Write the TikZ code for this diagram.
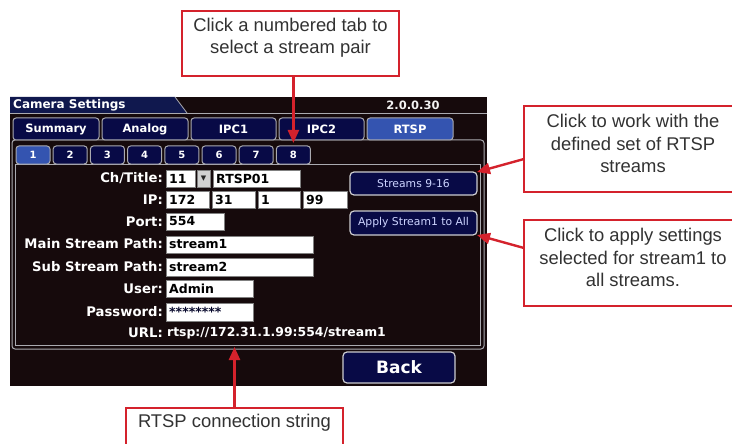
\documentclass[tikz,border=0pt]{standalone}
\usepackage{fontspec}
\setmainfont{Liberation Sans}
\newfontfamily\uifont{DejaVu Sans}
\usetikzlibrary{arrows.meta}
\definecolor{scr}{RGB}{22,10,12}
\definecolor{navy}{RGB}{8,10,70}
\definecolor{titlenavy}{RGB}{16,24,78}
\definecolor{tabblue}{RGB}{52,84,176}
\definecolor{uigray}{RGB}{170,170,176}
\definecolor{callred}{RGB}{212,34,44}
\definecolor{calltext}{RGB}{50,50,50}
\definecolor{btntext}{RGB}{205,212,255}
\newcommand\uibox[7]{\node[#2, anchor=north west, minimum width={#5-#3}, minimum height={#6-#4}, inner sep=0pt, outer sep=0pt] (#1) at (#3,#4) {#7};}
\tikzset{
  tabst/.style={draw=uigray, line width=1pt, fill=navy, rounded corners=3pt, text=white, font=\uifont\bfseries\fontsize{11.5}{13}\selectfont},
  numtab/.style={tabst, font=\uifont\bfseries\fontsize{10}{12}\selectfont},
  selt/.style={fill=tabblue},
  field/.style={draw=gray, line width=0.8pt, fill=white},
  ftext/.style={anchor=west, inner sep=0pt, xshift=3pt, text=black, font=\uifont\bfseries\fontsize{12.5}{14}\selectfont},
  lbl/.style={anchor=east, inner sep=0pt, text=white, font=\uifont\bfseries\fontsize{13.2}{15}\selectfont},
  urlst/.style={anchor=west, inner sep=0pt, text=white, font=\uifont\bfseries\fontsize{12.4}{14}\selectfont},
  btn/.style={draw=uigray!60!white, line width=1.2pt, fill=navy, rounded corners=4pt, text=btntext, font=\uifont\fontsize{10.8}{12}\selectfont},
  callbox/.style={draw=callred, line width=2.4pt, fill=white},
  calltxt/.style={text=calltext, align=center, inner sep=0pt, font=\fontsize{18.4}{22.5}\selectfont},
  callarrow/.style={draw=callred, line width=2.4pt, -{Triangle[length=13pt,width=11pt]}},
}
\begin{document}
\begin{tikzpicture}[x=1pt,y=-1pt]
\useasboundingbox (0,0) rectangle (732,444);
% screen
\uibox{screen}{fill=scr}{10}{97}{487}{386}{}
\fill[titlenavy] (10,97) -- (175,97) -- (187,113) -- (10,113) -- cycle;
\draw[uigray, line width=0.8pt] (175,97) -- (187,113);
\draw[uigray, line width=1pt] (10,114) -- (487,114);
\node[anchor=west, inner sep=0pt, text=white, font=\uifont\bfseries\fontsize{12}{13}\selectfont] (title) at (13,105) {Camera Settings};
\node[inner sep=0pt, text=white!90!gray, font=\uifont\bfseries\fontsize{11.5}{13}\selectfont] (ver) at (413,105) {2.0.0.30};
% frame
\draw[uigray, line width=1pt, rounded corners=3pt] (12,140) rectangle (484,349);
% main tabs
\uibox{tsum}{tabst}{13}{118}{99}{140}{Summary}
\uibox{tana}{tabst}{102}{118}{188}{140}{Analog}
\uibox{tipc1}{tabst}{191}{118}{276}{140}{IPC1}
\uibox{tipc2}{tabst}{279}{118}{364}{140}{IPC2}
\uibox{trtsp}{tabst,selt}{367}{118}{453}{140}{RTSP}
% panel
\uibox{panel}{draw=uigray, line width=1pt}{15}{164}{480}{345}{}
% number tabs
\uibox{ntab1}{numtab,selt}{16}{146}{50}{164}{1}
\foreach \i in {2,...,8}{
  \pgfmathsetmacro\xa{16+37.2*(\i-1)}
  \pgfmathsetmacro\xb{\xa+34}
  \uibox{ntab\i}{numtab}{\xa}{146}{\xb}{164}{\i}
}
% labels
\node[lbl] (lch) at (163,178) {Ch/Title:};
\node[lbl] (lip) at (163,200) {IP:};
\node[lbl] (lport) at (163,222) {Port:};
\node[lbl] (lmain) at (163,244) {Main Stream Path:};
\node[lbl] (lsub) at (163,267) {Sub Stream Path:};
\node[lbl] (luser) at (163,289) {User:};
\node[lbl] (lpwd) at (163,312) {Password:};
\node[lbl] (lurl) at (163,333) {URL:};
\node[urlst] (url) at (167,333) {rtsp://172.31.1.99:554/stream1};
% fields
\uibox{fch}{field}{166}{170}{195}{187}{}
\node[ftext] (tch) at (fch.west) {11};
\uibox{fdrop}{field, fill=gray!35, text=gray!30!black, font=\uifont\fontsize{7}{8}\selectfont}{197}{170}{210}{187}{▼}
\uibox{ftitle}{field}{213}{170}{300}{187}{}
\node[ftext] (ttitle) at (ftitle.west) {RTSP01};
\uibox{fip1}{field}{166}{191}{209}{208}{}
\node[ftext] (tip1) at (fip1.west) {172};
\uibox{fip2}{field}{212}{191}{255}{208}{}
\node[ftext] (tip2) at (fip2.west) {31};
\uibox{fip3}{field}{258}{191}{300}{208}{}
\node[ftext] (tip3) at (fip3.west) {1};
\uibox{fip4}{field}{303}{191}{347}{208}{}
\node[ftext] (tip4) at (fip4.west) {99};
\uibox{fport}{field}{166}{213}{224}{230}{}
\node[ftext] (tport) at (fport.west) {554};
\uibox{fmain}{field}{166}{236}{313}{253}{}
\node[ftext] (tmain) at (fmain.west) {stream1};
\uibox{fsub}{field}{166}{258}{313}{276}{}
\node[ftext] (tsub) at (fsub.west) {stream2};
\uibox{fuser}{field}{166}{280}{253}{297}{}
\node[ftext] (tuser) at (fuser.west) {Admin};
\uibox{fpwd}{field}{166}{303}{253}{321}{}
\node[ftext, text=navy!60!black] (tpwd) at (fpwd.west) {********};
% buttons
\uibox{bstreams}{btn}{350}{172}{477}{195}{Streams 9-16}
\uibox{bapply}{btn}{350}{211}{477}{235}{Apply Stream1 to All}
\uibox{bback}{btn, text=white, font=\uifont\bfseries\fontsize{17}{19}\selectfont}{343}{352}{455}{383}{Back}
% callouts
\uibox{ctop}{callbox}{182}{11}{399}{76}{}
\node[calltxt] (ctopt) at (290.5,37.5) {Click a numbered tab to\\select a stream pair};
\uibox{cr1}{callbox}{524}{106}{742}{192}{}
\node[calltxt] (cr1t) at (633,143.5) {Click to work with the\\defined set of RTSP\\streams};
\uibox{cr2}{callbox}{524}{220}{742}{306}{}
\node[calltxt] (cr2t) at (633,257.5) {Click to apply settings\\selected for stream1 to\\all streams.};
\uibox{cbot}{callbox}{126}{408}{343}{470}{}
\node[calltxt] (cbott) at (234.5,423) {RTSP connection string};
% arrows
\draw[callarrow] (ctop.south -| ntab8.north) -- ([yshift=3pt]ntab8.north);
\draw[callarrow] ([yshift=-10pt]cr1.west) -- (bstreams.north east);
\draw[callarrow] ([yshift=15pt]cr2.west) -- (bapply.south east);
\draw[callarrow] (cbot.north) -- ([yshift=-2pt]cbot.north |- panel.south);
\end{tikzpicture}
\end{document}
